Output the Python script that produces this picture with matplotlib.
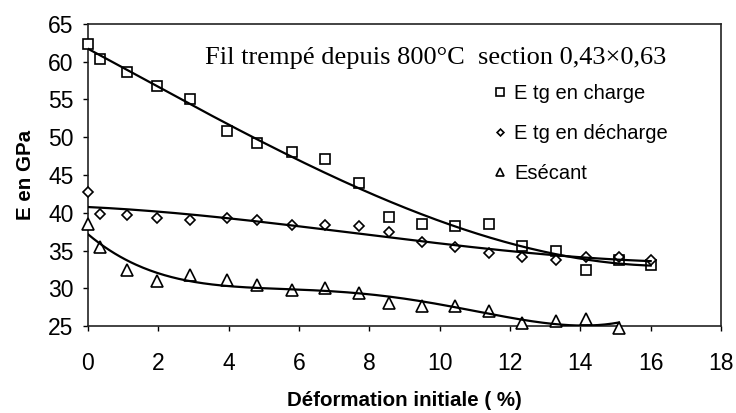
import numpy as np
import matplotlib
matplotlib.use("Agg")
import matplotlib.pyplot as plt

# Data
x_charge = [0, 0.35, 1.1, 1.95, 2.9, 3.95, 4.8, 5.8, 6.75, 7.7, 8.55, 9.5, 10.45, 11.4, 12.35, 13.3, 14.15, 15.1, 16.0]
y_charge = [62.3, 60.4, 58.6, 56.8, 55.0, 50.8, 49.2, 48.1, 47.1, 43.9, 39.4, 38.5, 38.2, 38.5, 35.6, 34.9, 32.4, 33.7, 33.1]

x_decharge = [0, 0.35, 1.1, 1.95, 2.9, 3.95, 4.8, 5.8, 6.75, 7.7, 8.55, 9.5, 10.45, 11.4, 12.35, 13.3, 14.15, 15.1, 16.0]
y_decharge = [42.7, 39.9, 39.7, 39.3, 39.1, 39.3, 39.0, 38.4, 38.35, 38.2, 37.5, 36.1, 35.4, 34.7, 34.1, 33.8, 34.2, 34.2, 33.8]

x_secant = [0, 0.35, 1.1, 1.95, 2.9, 3.95, 4.8, 5.8, 6.75, 7.7, 8.55, 9.5, 10.45, 11.4, 12.35, 13.3, 14.15, 15.1]
y_secant = [38.5, 35.4, 32.4, 31.0, 31.8, 31.1, 30.4, 29.8, 30.0, 29.4, 28.0, 27.6, 27.7, 27.0, 25.4, 25.6, 25.9, 24.8]

labels = ["E tg en charge", "E tg en décharge", "Esécant"]
title_text = "Fil trempé depuis 800°C  section 0,43×0,63"

W, H = 736, 413
fig = plt.figure(figsize=(W / 100, H / 100), dpi=100)
L, R, T, B = 88, 721, 24, 326
ax = fig.add_axes([L / W, 1 - B / H, (R - L) / W, (B - T) / H])

sans = ["Liberation Sans", "DejaVu Sans"]
serif = ["Liberation Serif", "DejaVu Serif"]

series = [
    (x_charge, y_charge, "s", 3, 7.0),
    (x_decharge, y_decharge, "D", 3, 4.6),
    (x_secant, y_secant, "^", 4, 8.0),
]
handles = []
for (xs, ys, m, deg, ms), lab in zip(series, labels):
    xs = np.array(xs); ys = np.array(ys)
    h, = ax.plot(xs, ys, linestyle="none", marker=m, ms=ms, mfc="white",
                 mec="black", mew=1.2, clip_on=False, zorder=3, label=lab)
    handles.append(h)
    coef = np.polyfit(xs, ys, deg)
    xx = np.linspace(xs.min(), xs.max(), 300)
    ax.plot(xx, np.polyval(coef, xx), color="black", lw=1.6, zorder=4)

ax.set_xlim(0, 18)
ax.set_ylim(25, 65)
ax.set_xticks(np.arange(0, 19, 2))
ax.set_yticks(np.arange(25, 66, 5))
ax.tick_params(direction="out", length=3.5, width=1, labelsize=16.5)
ax.tick_params(axis="x", pad=15)
ax.tick_params(axis="y", pad=7)
for t in ax.get_xticklabels() + ax.get_yticklabels():
    t.set_family(sans)
for s in ax.spines.values():
    s.set_linewidth(1.2)
    s.set_color("#222222")

ax.set_xlabel("Déformation initiale ( %)", family=sans, fontsize=14.8,
              fontweight="bold", labelpad=12)
ax.set_ylabel("E en GPa", family=sans, fontsize=14.8, fontweight="bold", labelpad=9)

ax.text((205 - L) / (R - L), (B - 58) / (B - T), title_text, transform=ax.transAxes,
        family=serif, fontsize=19, va="center", ha="left")

leg = ax.legend(handles=handles, loc="upper left",
                bbox_to_anchor=((476 - L) / (R - L), (B - 66) / (B - T)),
                frameon=False, prop={"family": sans, "size": 14.5},
                handlelength=0.6, handletextpad=0.4, labelspacing=1.05,
                markerscale=0.75)

fig.savefig("out.png", dpi=100)
